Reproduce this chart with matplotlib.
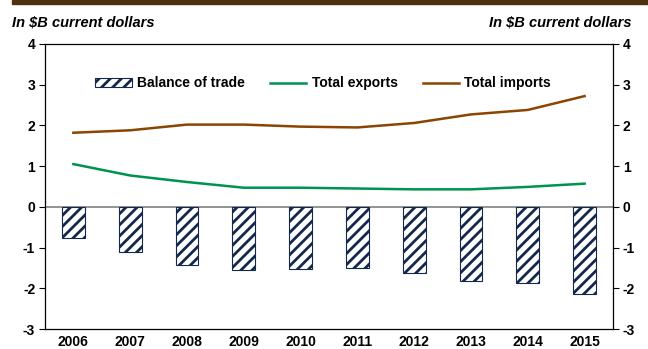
import numpy as np
import matplotlib.pyplot as plt
from matplotlib.patches import Rectangle

plt.rcParams['font.family'] = ['Liberation Sans', 'DejaVu Sans']
plt.rcParams['hatch.linewidth'] = 2.0
plt.rcParams['hatch.color'] = '#14284b'

years = ['2006', '2007', '2008', '2009', '2010', '2011', '2012', '2013', '2014', '2015']
balance = [-0.76, -1.10, -1.42, -1.55, -1.52, -1.50, -1.63, -1.82, -1.87, -2.14]
exports = [1.05, 0.77, 0.61, 0.47, 0.47, 0.45, 0.43, 0.43, 0.49, 0.57]
imports = [1.82, 1.88, 2.02, 2.02, 1.97, 1.95, 2.06, 2.27, 2.38, 2.72]
yticks = [-3, -2, -1, 0, 1, 2, 3, 4]

fig = plt.figure(figsize=(6.48, 3.49), dpi=100)
ax = fig.add_axes([0.0694, 0.0573, 0.8766, 0.8167])

x = np.arange(len(years))
b = ax.bar(x, balance, width=0.4, color='white', edgecolor='#14284b', hatch='///',
           linewidth=0.8, label='Balance of trade', zorder=2)
l1, = ax.plot(x, exports, color='#00924f', lw=1.8, label='Total exports', zorder=3)
l2, = ax.plot(x, imports, color='#8b4500', lw=1.8, label='Total imports', zorder=3)
ax.axhline(0, color='#808080', lw=1.2, zorder=1)

ax.set_xlim(-0.5, len(years) - 0.5)
ax.set_ylim(-3, 4)
ax.set_yticks(yticks)
ax.set_yticklabels([str(v) for v in yticks], fontweight='bold', fontsize=10)
ax.set_xticks(x)
ax.set_xticklabels(years, fontweight='bold', fontsize=10)
ax.tick_params(axis='x', length=0, pad=4)
ax.tick_params(axis='y', direction='out', length=4, width=0.8, pad=3,
               left=True, right=True, labelleft=True, labelright=True)
for s in ax.spines.values():
    s.set_linewidth(0.9)

ax.legend([b, l1, l2], ['Balance of trade', 'Total exports', 'Total imports'],
          loc='upper center', bbox_to_anchor=(0.49, 0.93), ncol=3, frameon=False,
          prop={'weight': 'bold', 'size': 10}, handlelength=2.6, handleheight=0.6,
          columnspacing=1.8, handletextpad=0.4)

fig.text(0.018, 0.935, 'In $B current dollars', fontsize=10.5, fontweight='bold',
         style='italic', ha='left', va='center')
fig.text(0.975, 0.935, 'In $B current dollars', fontsize=10.5, fontweight='bold',
         style='italic', ha='right', va='center')
fig.patches.append(Rectangle((0.018, 0.988), 0.982, 0.012, transform=fig.transFigure,
                             color='#4f3010', zorder=0))

fig.savefig('out.png', dpi=100)
